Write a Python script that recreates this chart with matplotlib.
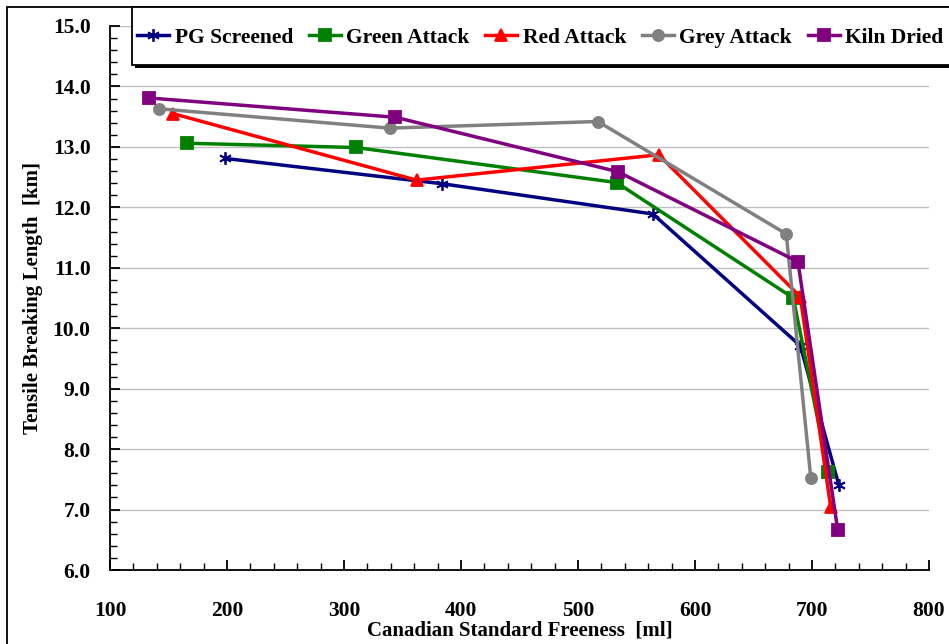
import matplotlib
matplotlib.use("Agg")
import matplotlib.pyplot as plt
from matplotlib.patches import Rectangle
from matplotlib.ticker import MultipleLocator, FormatStrFormatter

plt.rcParams['font.family'] = ['Liberation Serif', 'DejaVu Serif']
plt.rcParams['font.weight'] = 'bold'

# Freeness [ml] / breaking length [km] for each pulp
pg_csf = [198, 384, 564, 690, 723]
pg_tbl = [12.81, 12.39, 11.89, 9.71, 7.40]

green_csf = [166, 310, 533, 684, 714]
green_tbl = [13.06, 12.99, 12.41, 10.50, 7.62]

red_csf = [154, 362, 569, 690, 716]
red_tbl = [13.55, 12.45, 12.87, 10.52, 7.04]

grey_csf = [142, 339, 517, 678, 699]
grey_tbl = [13.63, 13.31, 13.42, 11.56, 7.52]

kiln_csf = [133, 344, 534, 688, 722]
kiln_tbl = [13.81, 13.49, 12.59, 11.10, 6.66]

series = [
    ("PG Screened", pg_csf, pg_tbl, "#000080", (6, 2, 0)),
    ("Green Attack", green_csf, green_tbl, "#008000", "s"),
    ("Red Attack", red_csf, red_tbl, "#FF0000", "^"),
    ("Grey Attack", grey_csf, grey_tbl, "#808080", "o"),
    ("Kiln Dried", kiln_csf, kiln_tbl, "#800080", "s"),
]

W, H = 949, 644
fig = plt.figure(figsize=(W / 100, H / 100), dpi=100)
ax = fig.add_axes([110 / W, 1 - 570 / H, (929 - 110) / W, (570 - 26) / H])

for name, xs, ys, col, mk in series:
    ms = 9 if mk == (6, 2, 0) else 8.5
    if mk == "o":
        ms = 8
    ax.plot(xs, ys, color=col, lw=2.5, marker=mk, ms=ms,
            mec=col, mfc=col, mew=1.3, label=name)

ax.set_xlim(100, 800)
ax.set_ylim(6.0, 15.0)
ax.xaxis.set_major_locator(MultipleLocator(100))
ax.xaxis.set_minor_locator(MultipleLocator(20))
ax.yaxis.set_major_locator(MultipleLocator(1.0))
ax.yaxis.set_minor_locator(MultipleLocator(0.2))
ax.yaxis.set_major_formatter(FormatStrFormatter('%.1f'))

ax.tick_params(which='both', direction='in', color='black')
ax.tick_params(which='major', length=7, width=1.3, labelsize=15.5)
ax.tick_params(which='minor', length=5, width=1.0)
ax.tick_params(axis='x', which='major', pad=22)
ax.tick_params(axis='y', which='major', pad=14)

ax.grid(axis='y', which='major', color='#c0c0c0', lw=1.0)
ax.set_axisbelow(True)
for s in ['top', 'right']:
    ax.spines[s].set_visible(False)
for s in ['left', 'bottom']:
    ax.spines[s].set_linewidth(1.3)

ax.set_xlabel("Canadian Standard Freeness  [ml]", fontsize=15, fontweight='bold', labelpad=0)
ax.set_ylabel("Tensile Breaking Length  [km]", fontsize=15, fontweight='bold', labelpad=7)

# legend box with a solid drop shadow
fig.patches.append(Rectangle((135 / W, 1 - 68 / H), (960 - 132) / W, 58 / H,
                             transform=fig.transFigure, facecolor='black',
                             edgecolor='black', lw=0, zorder=1))
fig.patches.append(Rectangle((132 / W, 1 - 65 / H), (960 - 132) / W, 58 / H,
                             transform=fig.transFigure, facecolor='white',
                             edgecolor='black', lw=1.3, zorder=1.1))

leg = fig.legend(loc='center left', bbox_to_anchor=(137 / W, 1 - 38 / H),
                 ncol=5, fontsize=15.5, frameon=False,
                 handlelength=1.5, handletextpad=0.25, columnspacing=0.72,
                 borderpad=0, borderaxespad=0)

# outer frame around the whole chart
fig.patches.append(Rectangle((7 / W, -0.1), 1.2, 1 - 7 / H + 0.1,
                             transform=fig.transFigure, fill=False,
                             edgecolor='black', lw=1.3, zorder=-1))

fig.savefig("out.png", dpi=100)
